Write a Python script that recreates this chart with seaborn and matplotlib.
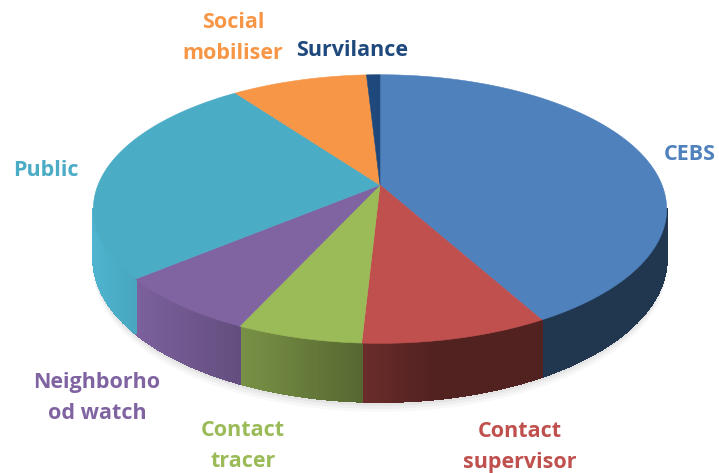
import numpy as np
import matplotlib
matplotlib.use("Agg")
import matplotlib.pyplot as plt
import seaborn as sns
from matplotlib.collections import PolyCollection

sns.set_theme(style="white")
plt.rcParams["font.family"] = ["Open Sans", "DejaVu Sans"]

# slice data, clockwise from 12 o'clock
categories = ["CEBS", "Contact supervisor", "Contact tracer", "Neighborhood watch",
              "Public", "Social mobiliser", "Survilance"]
label_text = ["CEBS", "Contact\nsupervisor", "Contact\ntracer", "Neighborho\nod watch",
              "Public", "Social\nmobiliser", "Survilance"]
shares = [42.0, 8.9, 6.0, 7.1, 26.1, 9.1, 0.9]
slice_colors = ["#4f81bd", "#c0504d", "#9bbb59", "#8064a2", "#4bacc6", "#f79646", "#1f497d"]

# label anchor (x centre, top of text) in pixels
label_pos = [(690, 144), (520, 421), (243, 420), (97, 372), (46, 160), (233, 12), (352, 40)]

# 3d pie geometry in pixels (perspective view)
CX, CY = 380, 185
A, B, K, DEPTH = 282, 130, 0.179, 48


def project(t, r=1.0, z=0.0):
    s, c = np.sin(t), np.cos(t)
    w = 1 + K * r * s
    return CX + A * r * c / w, CY - (B * r * s + DEPTH * z) / w


def side_shade(sx):
    u = (sx - (CX - 288)) / 576
    return 0.42 + 0.63 * np.clip(1 - u / 0.6, 0, 1)


def main() -> None:
    palette = sns.color_palette(slice_colors)
    fig = plt.figure(figsize=(7.19, 4.73), dpi=100)
    ax = fig.add_axes([0, 0, 1, 1])
    ax.set_xlim(0, 719)
    ax.set_ylim(473, 0)
    ax.axis("off")

    fracs = np.array(shares) / np.sum(shares)
    edges = np.pi / 2 - 2 * np.pi * np.concatenate([[0], np.cumsum(fracs)])

    # soft shadow under the base
    tt = np.linspace(0, 2 * np.pi, 400)
    bx, by = project(tt, z=-1)
    for off, a in [(10, 0.05), (7, 0.07), (4, 0.09)]:
        ax.fill(bx, by + off, color="#808080", alpha=a, lw=0)

    # visible outer wall
    t_lo = np.pi + np.arcsin(K)
    t_hi = 2 * np.pi - np.arcsin(K)
    polys, cols = [], []
    for i, col in enumerate(palette):
        t0, t1 = edges[i + 1], edges[i]
        t0n = t0 % (2 * np.pi)
        t1n = t0n + (t1 - t0)
        a0, a1 = max(t0n, t_lo), min(t1n, t_hi)
        if a1 <= a0:
            continue
        ts = np.linspace(a0, a1, max(3, int((a1 - a0) / 0.01)))
        for ta, tb in zip(ts[:-1], ts[1:]):
            xa, ya = project(ta)
            xb, yb = project(tb)
            xa2, ya2 = project(ta, z=-1)
            xb2, yb2 = project(tb, z=-1)
            f = side_shade((xa + xb) / 2)
            rgb = np.clip(np.array(col) * f, 0, 1)
            polys.append([(xa, ya), (xb, yb), (xb2, yb2), (xa2, ya2)])
            cols.append(rgb)
    ax.add_collection(PolyCollection(polys, facecolors=cols, edgecolors=cols,
                                     linewidths=1.0, antialiased=False))

    # top surface slices
    for i, col in enumerate(palette):
        ts = np.linspace(edges[i], edges[i + 1], 200)
        xs, ys = project(ts)
        ax.fill(np.r_[CX, xs], np.r_[CY, ys], color=col, lw=0.4, ec=col)

    for name, (x, y), col in zip(label_text, label_pos, palette):
        ax.text(x, y, name, ha="center", va="top", fontsize=15.5, fontweight="bold",
                color=col, linespacing=1.6)

    fig.savefig("out.png", dpi=100)
    plt.close(fig)


if __name__ == "__main__":
    main()
